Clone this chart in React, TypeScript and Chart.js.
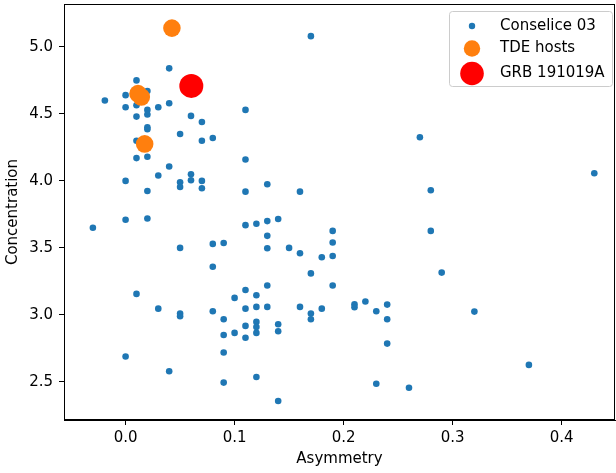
import React, { useEffect, useRef } from "react";
import { Chart, registerables } from "chart.js";

Chart.register(...registerables);

// Conselice 03 sample
const consX = [
  -0.03, -0.019, 0.0, 0.0, 0.0, 0.0, 0.0,
  0.01, 0.01, 0.01, 0.01, 0.01, 0.01,
  0.02, 0.02, 0.02, 0.02, 0.02, 0.02, 0.02, 0.02,
  0.03, 0.03, 0.03,
  0.04, 0.04, 0.04, 0.04,
  0.05, 0.05, 0.05, 0.05, 0.05, 0.05,
  0.06, 0.06, 0.06,
  0.07, 0.07, 0.07, 0.07,
  0.08, 0.08, 0.08, 0.08,
  0.09, 0.09, 0.09, 0.09, 0.09,
  0.1, 0.1,
  0.11, 0.11, 0.11, 0.11, 0.11, 0.11, 0.11, 0.11,
  0.12, 0.12, 0.12, 0.12, 0.12, 0.12, 0.12,
  0.13, 0.13, 0.13, 0.13, 0.13, 0.13,
  0.14, 0.14, 0.14, 0.14,
  0.15,
  0.16, 0.16, 0.16,
  0.17, 0.17, 0.17, 0.17,
  0.18, 0.18,
  0.19, 0.19, 0.19, 0.19,
  0.21, 0.21, 0.22, 0.23, 0.23,
  0.24, 0.24, 0.24,
  0.26, 0.27, 0.28, 0.28, 0.29, 0.32, 0.37, 0.43,
];
const consY = [
  3.65, 4.6, 4.64, 4.55, 4.0, 3.71, 2.69,
  4.75, 4.565, 4.48, 4.3, 4.17, 3.157,
  4.67, 4.53, 4.495, 4.4, 4.385, 4.18, 3.925, 3.72,
  4.55, 4.04, 3.047,
  4.84, 4.58, 4.107, 2.58,
  4.35, 3.99, 3.955, 3.5, 3.01, 2.99,
  4.485, 4.05, 4.005,
  4.44, 4.3, 4.0, 3.945,
  4.32, 3.53, 3.36, 3.027,
  3.537, 2.968, 2.85, 2.72, 2.495,
  3.127, 2.866,
  4.53, 4.16, 3.92, 3.67, 3.186, 3.047, 2.918, 2.83,
  3.68, 3.147, 3.06, 2.948, 2.91, 2.866, 2.537,
  3.975, 3.7, 3.59, 3.498, 3.22, 3.06,
  3.716, 2.93, 2.878, 2.358,
  3.5,
  3.92, 3.46, 3.06,
  5.08, 3.31, 3.01, 2.968,
  3.43, 3.047,
  3.627, 3.54, 3.44, 3.22,
  3.08, 3.057, 3.1, 3.027, 2.487,
  3.077, 2.968, 2.786,
  2.457, 4.326, 3.93, 3.627, 3.316, 3.025, 2.627, 4.057,
];

// TDE hosts
const tdeX = [0.0425, 0.0114, 0.0144, 0.0175];
const tdeY = [5.14, 4.651, 4.626, 4.276];

// GRB 191019A
const grbX = [0.0603];
const grbY = [4.709];

const xTicks = [0.0, 0.1, 0.2, 0.3, 0.4];
const yTicks = [2.5, 3.0, 3.5, 4.0, 4.5, 5.0];

const seriesLabels = ["Conselice 03", "TDE hosts", "GRB 191019A"];
const seriesColors = ["#1f77b4", "#ff7f0e", "#ff0000"];

const FONT = "'DejaVu Sans', sans-serif";

const toPts = (xs: number[], ys: number[]) => xs.map((x, i) => ({ x, y: ys[i] }));

export default function App() {
  const ref = useRef<HTMLCanvasElement | null>(null);

  useEffect(() => {
    if (!ref.current) return;

    const framePlugin = {
      id: "frameAndLegend",
      afterDraw(chart: any) {
        const { ctx, chartArea } = chart;
        ctx.save();
        ctx.strokeStyle = "#000";
        ctx.lineWidth = 1;
        ctx.strokeRect(
          Math.round(chartArea.left) + 0.5,
          Math.round(chartArea.top) + 0.5,
          Math.round(chartArea.right - chartArea.left) - 1,
          Math.round(chartArea.bottom - chartArea.top) - 1
        );
        // legend box
        const bx = 449.5, by = 11.5, bw = 163, bh = 75, r = 3;
        ctx.beginPath();
        ctx.moveTo(bx + r, by);
        ctx.lineTo(bx + bw - r, by);
        ctx.arcTo(bx + bw, by, bx + bw, by + r, r);
        ctx.lineTo(bx + bw, by + bh - r);
        ctx.arcTo(bx + bw, by + bh, bx + bw - r, by + bh, r);
        ctx.lineTo(bx + r, by + bh);
        ctx.arcTo(bx, by + bh, bx, by + bh - r, r);
        ctx.lineTo(bx, by + r);
        ctx.arcTo(bx, by, bx + r, by, r);
        ctx.closePath();
        ctx.fillStyle = "rgba(255,255,255,0.8)";
        ctx.fill();
        ctx.strokeStyle = "#cccccc";
        ctx.stroke();

        const rows = [26, 48.5, 73.5];
        const radii = [3.2, 8.2, 11.8];
        ctx.font = `15px ${FONT}`;
        ctx.textBaseline = "middle";
        ctx.textAlign = "left";
        for (let i = 0; i < 3; i++) {
          ctx.beginPath();
          ctx.arc(472, rows[i], radii[i], 0, Math.PI * 2);
          ctx.fillStyle = seriesColors[i];
          ctx.fill();
          ctx.fillStyle = "#000";
          ctx.fillText(seriesLabels[i], 500, rows[i]);
        }
        ctx.restore();
      },
    };

    const chart = new Chart(ref.current, {
      type: "scatter",
      data: {
        datasets: [
          {
            label: seriesLabels[0],
            data: toPts(consX, consY),
            backgroundColor: seriesColors[0],
            borderWidth: 0,
            pointRadius: 3.3,
            order: 3,
          },
          {
            label: seriesLabels[1],
            data: toPts(tdeX, tdeY),
            backgroundColor: seriesColors[1],
            borderWidth: 0,
            pointRadius: 8.8,
            order: 2,
          },
          {
            label: seriesLabels[2],
            data: toPts(grbX, grbY),
            backgroundColor: seriesColors[2],
            borderWidth: 0,
            pointRadius: 12,
            order: 1,
          },
        ],
      },
      options: {
        animation: false,
        responsive: false,
        devicePixelRatio: 1,
        layout: { autoPadding: false, padding: { top: 4, right: 1, left: 0, bottom: 0 } },
        plugins: {
          legend: { display: false },
          tooltip: { enabled: false },
        },
        scales: {
          x: {
            type: "linear",
            min: -0.0565,
            max: 0.449,
            afterBuildTicks: (scale: any) => {
              scale.ticks = xTicks.map((v) => ({ value: v }));
            },
            afterFit: (scale: any) => {
              scale.height = 53;
              scale.paddingLeft = 0;
              scale.paddingRight = 0;
            },
            grid: {
              display: true,
              drawOnChartArea: false,
              drawTicks: true,
              tickLength: 5,
              color: "#000",
            },
            border: { display: true, color: "#000", width: 1 },
            ticks: {
              color: "#000",
              font: { family: FONT, size: 15 },
              padding: 4,
              maxRotation: 0,
              autoSkip: false,
              callback: (v: any) => Number(v).toFixed(1),
            },
            title: {
              display: true,
              text: "Asymmetry",
              color: "#000",
              font: { family: FONT, size: 15 },
              padding: { top: 0, bottom: 4.5 },
            },
          },
          y: {
            type: "linear",
            min: 2.216,
            max: 5.32,
            afterBuildTicks: (scale: any) => {
              scale.ticks = yTicks.map((v) => ({ value: v }));
            },
            afterFit: (scale: any) => {
              scale.width = 64;
              scale.paddingTop = 0;
              scale.paddingBottom = 0;
            },
            grid: {
              display: true,
              drawOnChartArea: false,
              drawTicks: true,
              tickLength: 5,
              color: "#000",
            },
            border: { display: true, color: "#000", width: 1 },
            ticks: {
              color: "#000",
              font: { family: FONT, size: 15 },
              padding: 6,
              autoSkip: false,
              callback: (v: any) => Number(v).toFixed(1),
            },
            title: {
              display: true,
              text: "Concentration",
              color: "#000",
              font: { family: FONT, size: 15 },
              padding: { top: 4, bottom: 0 },
            },
          },
        },
      },
      plugins: [framePlugin],
    } as any);

    return () => chart.destroy();
  }, []);

  return (
    <div style={{ position: "absolute", left: 0, top: 0, width: 616, height: 473 }}>
      <canvas ref={ref} width={616} height={473} />
    </div>
  );
}
